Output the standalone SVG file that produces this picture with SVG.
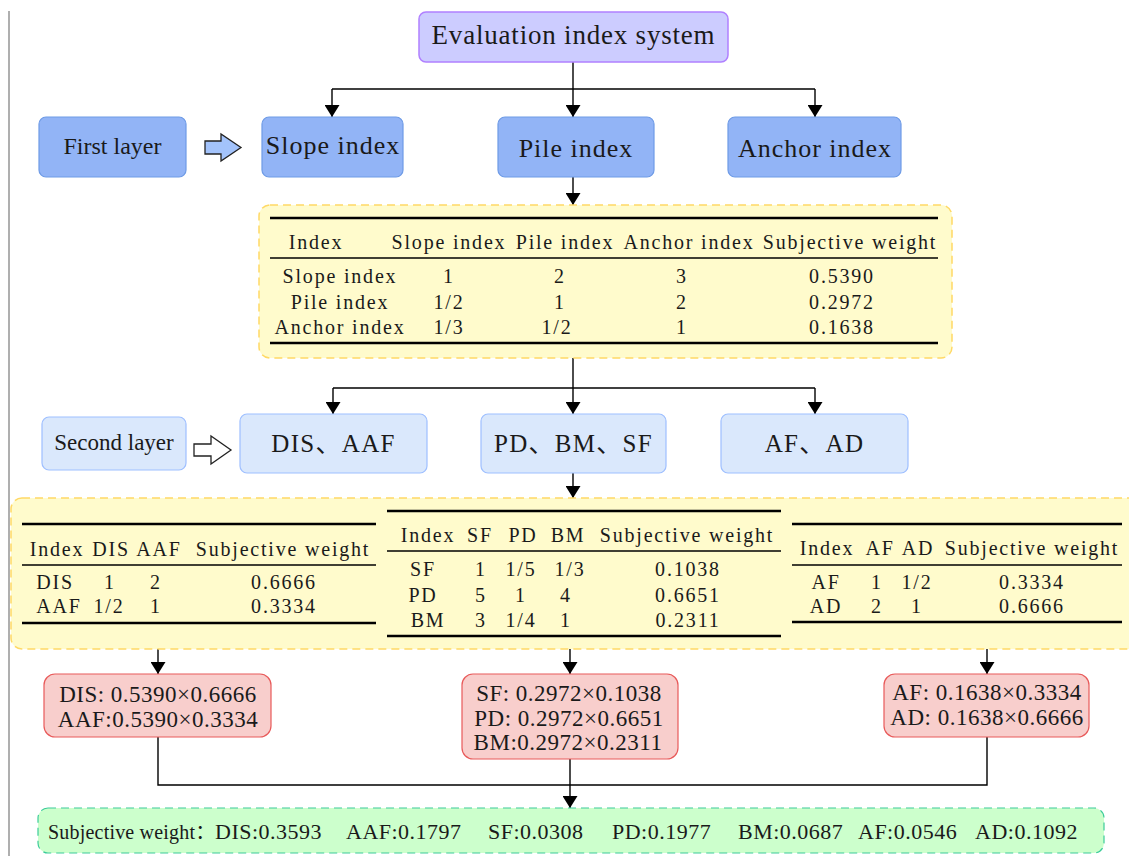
<svg xmlns="http://www.w3.org/2000/svg" width="1129" height="856" viewBox="0 0 1129 856">
<defs>
<marker id="arr" viewBox="0 0 12 15" refX="12" refY="7.5" markerWidth="12" markerHeight="15" markerUnits="userSpaceOnUse" orient="auto">
<path d="M0,0 L12,7.5 L0,15 Z" fill="#000"/>
</marker>
<style>
text{font-family:"Liberation Serif","Times New Roman","Noto Sans CJK SC",serif;fill:#1a1a1a}
.top{fill:#ccccff;stroke:#b080ff;stroke-width:1.5}
.l1{fill:#92b4f6;stroke:#6e9be6;stroke-width:1.2}
.l2{fill:#dae8fc;stroke:#9ebfff;stroke-width:1.2}
.tbl{fill:#fffbcc;stroke:#ffd966;stroke-width:1.5;stroke-dasharray:8 5}
.red{fill:#f8cecc;stroke:#e85a5a;stroke-width:1.2}
.grn{fill:#ccffcc;stroke:#3ccc99;stroke-width:1.2;stroke-dasharray:8 5}
.con{fill:none;stroke:#000;stroke-width:1.4}
.tk{stroke:#000;stroke-width:2.5}
.tn{stroke:#000;stroke-width:1.3}
.big{font-size:26px;letter-spacing:1px}
.sz24{font-size:24px}
.b2{font-size:25px;letter-spacing:1.3px}
.t{font-size:20px;letter-spacing:1.8px}
.r{font-size:23px;letter-spacing:0.5px}
.g{font-size:22px;letter-spacing:0.5px}
.c{text-anchor:middle}
</style>
</defs>
<line x1="9" y1="11" x2="9" y2="856" stroke="#7a7a7a" stroke-width="1.2"/>
<g id="connectors">
<path class="con" d="M573,62 V89"/>
<path class="con" d="M332,89 H815"/>
<path class="con" d="M332,89 V117" marker-end="url(#arr)"/>
<path class="con" d="M573,89 V117" marker-end="url(#arr)"/>
<path class="con" d="M815,89 V117" marker-end="url(#arr)"/>
<path class="con" d="M573,177 V205" marker-end="url(#arr)"/>
<path class="con" d="M573,358 V388"/>
<path class="con" d="M333,388 H815"/>
<path class="con" d="M333,388 V414" marker-end="url(#arr)"/>
<path class="con" d="M573,388 V414" marker-end="url(#arr)"/>
<path class="con" d="M815,388 V414" marker-end="url(#arr)"/>
<path class="con" d="M573,473 V498" marker-end="url(#arr)"/>
<path class="con" d="M158,649 V674" marker-end="url(#arr)"/>
<path class="con" d="M570,649 V674" marker-end="url(#arr)"/>
<path class="con" d="M987,649 V674" marker-end="url(#arr)"/>
<path class="con" d="M158,737 V785 H987 V737"/>
<path class="con" d="M570,759 V808" marker-end="url(#arr)"/>
<polygon points="205,141 221,141 221,134 241,147.5 221,161 221,154 205,154" fill="#a3c3fb" stroke="#222" stroke-width="1.3"/>
<polygon points="194,444 211,444 211,436 231,450 211,464 211,456 194,456" fill="#fff" stroke="#222" stroke-width="1.3"/>
</g>
<g id="n-eval">
<rect class="top" x="419" y="12" width="309" height="50" rx="7"/>
<text class="c" x="573.5" y="44" font-size="27" letter-spacing="0.8">Evaluation index system</text>
</g>
<g id="n-first">
<rect class="l1" x="39" y="117" width="147" height="60" rx="7"/>
<text class="c sz24" x="112.5" y="154">First layer</text>
</g>
<g id="n-slope">
<rect class="l1" x="262" y="117" width="141" height="60" rx="7"/>
<text class="c big" x="333" y="154">Slope index</text>
</g>
<g id="n-pile">
<rect class="l1" x="498" y="117" width="156" height="60" rx="7"/>
<text class="c big" x="576" y="157">Pile index</text>
</g>
<g id="n-anchor">
<rect class="l1" x="728" y="117" width="173" height="60" rx="7"/>
<text class="c big" x="815" y="157">Anchor index</text>
</g>
<g id="n-table1">
<rect class="tbl" x="259" y="205" width="693" height="153" rx="11"/>
<line class="tk" x1="270" y1="218" x2="938" y2="218"/>
<line class="tn" x1="270" y1="258" x2="938" y2="258"/>
<line class="tk" x1="270" y1="343" x2="938" y2="343"/>
<g class="t c">
<text x="316" y="249">Index</text>
<text x="449" y="249">Slope index</text>
<text x="565" y="249">Pile index</text>
<text x="689" y="249">Anchor index</text>
<text x="850" y="249">Subjective weight</text>
<text x="340" y="283">Slope index</text>
<text x="449" y="283">1</text>
<text x="560" y="283">2</text>
<text x="682" y="283">3</text>
<text x="842" y="283">0.5390</text>
<text x="340" y="309">Pile index</text>
<text x="449" y="309">1/2</text>
<text x="560" y="309">1</text>
<text x="682" y="309">2</text>
<text x="842" y="309">0.2972</text>
<text x="340" y="334">Anchor index</text>
<text x="449" y="334">1/3</text>
<text x="557" y="334">1/2</text>
<text x="682" y="334">1</text>
<text x="842" y="334">0.1638</text>
</g>
</g>
<g id="n-second">
<rect class="l2" x="42" y="417" width="144" height="53" rx="7"/>
<text class="c" x="114" y="450" font-size="23">Second layer</text>
</g>
<g id="n-disaaf">
<rect class="l2" x="240" y="414" width="187" height="59" rx="7"/>
<text class="c b2" x="333.5" y="452">DIS、AAF</text>
</g>
<g id="n-pdbmsf">
<rect class="l2" x="481" y="414" width="185" height="59" rx="7"/>
<text class="c b2" x="573.5" y="452">PD、BM、SF</text>
</g>
<g id="n-afad">
<rect class="l2" x="721" y="414" width="187" height="59" rx="7"/>
<text class="c b2" x="814.5" y="452">AF、AD</text>
</g>
<g id="n-table2">
<rect class="tbl" x="11" y="498" width="1130" height="151" rx="11"/>
<line class="tk" x1="22" y1="524" x2="376" y2="524"/>
<line class="tn" x1="22" y1="565" x2="376" y2="565"/>
<line class="tk" x1="22" y1="623" x2="376" y2="623"/>
<line class="tk" x1="387" y1="511" x2="781" y2="511"/>
<line class="tn" x1="387" y1="551" x2="781" y2="551"/>
<line class="tk" x1="387" y1="636" x2="781" y2="636"/>
<line class="tk" x1="792" y1="524" x2="1122" y2="524"/>
<line class="tn" x1="792" y1="565" x2="1122" y2="565"/>
<line class="tk" x1="792" y1="622" x2="1122" y2="622"/>
<g class="t c">
<text x="57" y="556">Index</text>
<text x="111" y="556">DIS</text>
<text x="159" y="556">AAF</text>
<text x="283" y="556">Subjective weight</text>
<text x="55" y="589">DIS</text>
<text x="110" y="589">1</text>
<text x="156" y="589">2</text>
<text x="284" y="589">0.6666</text>
<text x="59" y="613">AAF</text>
<text x="109" y="613">1/2</text>
<text x="156" y="613">1</text>
<text x="284" y="613">0.3334</text>
<text x="428" y="542">Index</text>
<text x="480" y="542">SF</text>
<text x="523" y="542">PD</text>
<text x="568" y="542">BM</text>
<text x="687" y="542">Subjective weight</text>
<text x="423" y="576">SF</text>
<text x="481" y="576">1</text>
<text x="521" y="576">1/5</text>
<text x="570" y="576">1/3</text>
<text x="688" y="576">0.1038</text>
<text x="423" y="602">PD</text>
<text x="481" y="602">5</text>
<text x="521" y="602">1</text>
<text x="566" y="602">4</text>
<text x="688" y="602">0.6651</text>
<text x="428" y="627">BM</text>
<text x="481" y="627">3</text>
<text x="521" y="627">1/4</text>
<text x="566" y="627">1</text>
<text x="688" y="627">0.2311</text>
<text x="827" y="555">Index</text>
<text x="880" y="555">AF</text>
<text x="918" y="555">AD</text>
<text x="1032" y="555">Subjective weight</text>
<text x="826" y="589">AF</text>
<text x="877" y="589">1</text>
<text x="917" y="589">1/2</text>
<text x="1032" y="589">0.3334</text>
<text x="826" y="613">AD</text>
<text x="877" y="613">2</text>
<text x="917" y="613">1</text>
<text x="1032" y="613">0.6666</text>
</g>
</g>
<g id="n-red1">
<rect class="red" x="44" y="674" width="227" height="63" rx="11"/>
<text class="c r" x="158" y="702">DIS: 0.5390×0.6666</text>
<text class="c r" x="158" y="727">AAF:0.5390×0.3334</text>
</g>
<g id="n-red2">
<rect class="red" x="462" y="674" width="216" height="85" rx="11"/>
<text class="c r" x="569" y="701">SF: 0.2972×0.1038</text>
<text class="c r" x="569" y="726">PD: 0.2972×0.6651</text>
<text class="c r" x="568" y="750">BM:0.2972×0.2311</text>
</g>
<g id="n-red3">
<rect class="red" x="884" y="674" width="205" height="63" rx="11"/>
<text class="c r" x="987" y="700">AF: 0.1638×0.3334</text>
<text class="c r" x="987" y="725">AD: 0.1638×0.6666</text>
</g>
<g id="n-result">
<rect class="grn" x="38" y="808" width="1066" height="45" rx="10"/>
<text x="48" y="839" font-size="20" letter-spacing="0.2">Subjective weight：</text>
<text class="g" y="839"><tspan x="215">DIS:0.3593</tspan><tspan x="346">AAF:0.1797</tspan><tspan x="488">SF:0.0308</tspan><tspan x="612">PD:0.1977</tspan><tspan x="738">BM:0.0687</tspan><tspan x="858">AF:0.0546</tspan><tspan x="975">AD:0.1092</tspan></text>
</g>
</svg>
